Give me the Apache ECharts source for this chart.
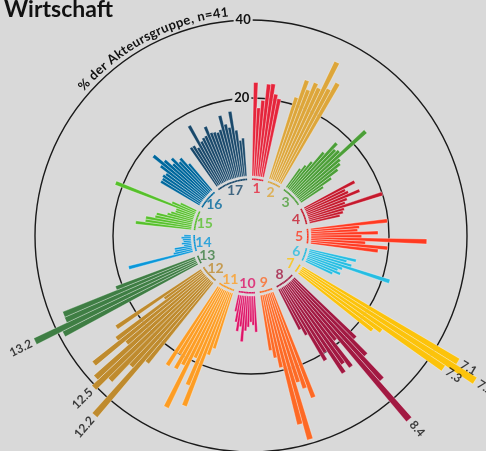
<!DOCTYPE html>
<html>
<head>
<meta charset="utf-8">
<script src="https://cdn.jsdelivr.net/npm/echarts@6/dist/echarts.min.js"></script>
<style>
html, body { margin: 0; padding: 0; background: #d9d9d9; }
#chart { width: 486px; height: 451px; }
</style>
</head>
<body>
<div id="chart"></div>
<script>
// SDG-Nummern, Farben, Anzahl der nummerierten Unterziele (Rest: a, b, c ...)
var sdgNames = ['1','2','3','4','5','6','7','8','9','10','11','12','13','14','15','16','17'];
var sdgColors = ['#e5243b','#dda63a','#4c9f38','#c5192d','#ff3a21','#26bde2','#fcc30b','#a21942',
                 '#fd6925','#dd1367','#fd9d24','#bf8b2e','#3f7e44','#0a97d9','#56c02b','#00689d','#19486a'];
var numberedTargets = [5,5,9,7,6,6,3,10,5,7,7,8,3,7,9,10,19];

// % der Akteursgruppe je Unterziel
var g1  = [24, 17.5, 19.5, 23.8, 24, 21.5, 20.5];
var g2  = [22, 27, 24.8, 27.2, 26.3, 34.3, 27.2, 29.6];
var g3  = [6, 7.5, 9.2, 13, 17, 15.5, 16, 24.4, 14.7, 14, 12.6, 10, 7];
var g4  = [14.6, 11.5, 12, 14.8, 11, 10.2, 20, 9.5, 9, 8];
var g5  = [19.8, 12.5, 12, 17.2, 13, 29.7, 14, 19.8, 17.4];
var g6  = [12.3, 10, 11.5, 22, 9.5, 8.5, 9.5, 7.6];
var g7  = [46.7, 53, 44.5, 26, 24];
var g8  = [22, 27, 34.4, 46.7, 19, 26.8, 25, 27, 20, 21.8, 13.7, 11.7];
var g9  = [29, 26, 24, 38.9, 34.5, 19.2, 16.5, 14.4];
var g10 = [9.3, 7.5, 6.7, 8, 9, 11.8, 8, 9.3, 7, 4.4];
var g11 = [15, 17, 31.4, 26.1, 19, 33.6, 22, 23.7, 20, 24.1];
var g12 = [26.6, 45.6, 30, 36.3, 40.6, 38.5, 26.7, 36.5, 28, 12, 26.3];
var g13 = [38.8, 46.2, 36.8, 36.7, 21.7];
var g14 = [17, 5, 4.5, 4.5, 2, 2.5, 2, 2.2, 2.5, 1.8];
var g15 = [14.4, 12, 12, 9.7, 9.5, 6.8, 6, 5, 5, 21.9, 6.6, 4.5];
var g16 = [11.6, 11.6, 12, 11.6, 13.9, 17, 14, 11.8, 13, 11, 11.5, 9];
var g17 = [12, 12, 11, 17, 12, 12.6, 12.8, 15, 13, 12.8, 12.5, 13, 16.5, 14, 13, 17, 12, 9.3, 9.8];
var sdgValues = [g1,g2,g3,g4,g5,g6,g7,g8,g9,g10,g11,g12,g13,g14,g15,g16,g17];

var radiusTicks = [20, 40];
var labelLimit = 40;   // Balken darüber bekommen ihre Zielnummer
var axisTitle = '% der Akteursgruppe, n=41';

var GAP = 3, LEAD = 0.6;
var CX = 251, CY = 236, R0 = 60, PX = 3.9, RMAX = 60;

var slotCount = 0;
sdgValues.forEach(function (v) { slotCount += v.length + GAP; });
var slotDeg = 360 / slotCount;
var startAngle = 90 - LEAD * slotDeg;

var cats = [], barData = [], arcBase = [], arcLine = [], groupLabels = [], outliers = [];
sdgValues.forEach(function (vals, g) {
    var first = cats.length;
    vals.forEach(function (v, i) {
        var n = numberedTargets[g];
        var id = sdgNames[g] + '.' + (i < n ? i + 1 : 'abcdefgh'.charAt(i - n));
        var s = cats.length;
        cats.push(id);
        barData.push({ value: v, itemStyle: { color: sdgColors[g] } });
        arcBase.push(56);
        arcLine.push({ value: 1.6, itemStyle: { color: sdgColors[g] } });
        if (v > labelLimit) {
            var th = (LEAD + s + 0.5) * slotDeg;
            var right = th < 180;
            outliers.push({
                name: id,
                value: [v + 1.0, s],
                label: { rotate: right ? 90 - th : 270 - th, align: right ? 'left' : 'right' }
            });
        }
    });
    groupLabels.push({ name: sdgNames[g], value: [48, first + vals.length / 2], label: { color: sdgColors[g] } });
    for (var k = 0; k < GAP; k++) {
        cats.push('_' + cats.length);
        barData.push('-'); arcBase.push('-'); arcLine.push('-');
    }
});

// gebogener Achsentitel, Zeichen für Zeichen
var ctx = document.createElement('canvas').getContext('2d');
var titleFont = 'bold 13px Lato';
ctx.font = titleFont;
var TR = 225, midDeg = -27.5, arcLen = 170;
var totalW = ctx.measureText(axisTitle).width;
var extra = Math.max(0, (arcLen - totalW) / (axisTitle.length - 1));
var spanW = totalW + extra * (axisTitle.length - 1);
var curAng = midDeg * Math.PI / 180 - spanW / 2 / TR;
var curved = [];
for (var c = 0; c < axisTitle.length; c++) {
    var ch = axisTitle.charAt(c);
    var w = ctx.measureText(ch).width;
    var a = curAng + w / 2 / TR;
    curved.push({
        type: 'text',
        x: CX + TR * Math.sin(a),
        y: CY - TR * Math.cos(a),
        rotation: -a,
        style: { text: ch, font: titleFont, fill: '#111', align: 'center', verticalAlign: 'middle' }
    });
    curAng += (w + extra) / TR;
}

var hiddenAxis = { axisLine: { show: false }, axisTick: { show: false }, axisLabel: { show: false }, splitLine: { show: false } };

var myChart = echarts.init(document.getElementById('chart'));
myChart.setOption({
    backgroundColor: '#d9d9d9',
    animation: false,
    title: {
        text: 'Wirtschaft', left: -1, top: -7,
        textStyle: { fontFamily: 'Lato', fontWeight: 'bold', fontSize: 23, color: '#111' }
    },
    polar: [
        { center: [CX, CY], radius: [R0, R0 + PX * RMAX] },
        { center: [CX, CY], radius: [0, R0] },
        { center: [CX, CY], radius: [0, R0] }
    ],
    angleAxis: [
        Object.assign({ polarIndex: 0, type: 'category', data: cats, startAngle: startAngle, clockwise: true }, hiddenAxis),
        Object.assign({ polarIndex: 1, type: 'category', data: cats, startAngle: startAngle, clockwise: true }, hiddenAxis),
        Object.assign({ polarIndex: 2, type: 'value', min: 0, max: slotCount, startAngle: startAngle, clockwise: true }, hiddenAxis)
    ],
    radiusAxis: [
        {
            polarIndex: 0, type: 'value', min: 0, max: RMAX, interval: 20,
            axisLine: { show: false }, axisTick: { show: false },
            axisLabel: {
                margin: 2,
                formatter: function (v) { return radiusTicks.indexOf(v) >= 0 ? String(v) : ''; },
                fontFamily: 'Lato', fontWeight: 'bold', fontSize: 13, color: '#111',
                backgroundColor: '#d9d9d9', padding: [0, 2]
            },
            splitLine: { show: true, lineStyle: { color: ['rgba(0,0,0,0)', '#1a1a1a', '#1a1a1a', 'rgba(0,0,0,0)'], width: 1.4 } }
        },
        Object.assign({ polarIndex: 1, type: 'value', min: 0, max: R0 }, hiddenAxis),
        Object.assign({ polarIndex: 2, type: 'value', min: 0, max: R0 }, hiddenAxis)
    ],
    series: [
        {
            type: 'bar', coordinateSystem: 'polar', polarIndex: 0,
            data: barData, barCategoryGap: '0%',
            itemStyle: { borderColor: 'rgba(255,255,255,0.55)', borderWidth: 0.6 }
        },
        {
            type: 'bar', coordinateSystem: 'polar', polarIndex: 1, stack: 'arc',
            data: arcBase, barCategoryGap: '0%', itemStyle: { color: 'rgba(0,0,0,0)' }, silent: true
        },
        {
            type: 'bar', coordinateSystem: 'polar', polarIndex: 1, stack: 'arc',
            data: arcLine, barCategoryGap: '0%'
        },
        {
            type: 'scatter', coordinateSystem: 'polar', polarIndex: 2,
            data: groupLabels, symbolSize: 1, itemStyle: { color: 'rgba(0,0,0,0)' },
            label: { show: true, position: 'inside', formatter: '{b}', fontFamily: 'Lato', fontWeight: 'bold', fontSize: 14 }
        },
        {
            type: 'scatter', coordinateSystem: 'polar', polarIndex: 0,
            data: outliers, symbolSize: 1, itemStyle: { color: 'rgba(0,0,0,0)' },
            label: { show: true, position: 'inside', formatter: '{b}', verticalAlign: 'middle',
                     fontFamily: 'Lato', fontWeight: 'bold', fontSize: 12, color: '#111' }
        }
    ],
    graphic: curved
});
</script>
</body>
</html>
